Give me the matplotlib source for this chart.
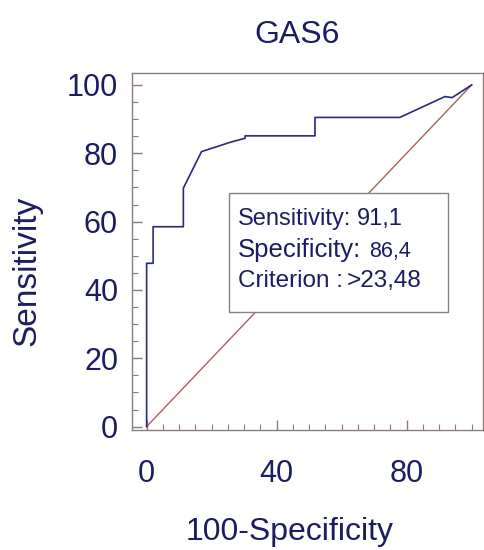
import matplotlib
matplotlib.use("Agg")
import matplotlib.pyplot as plt
from matplotlib.ticker import MultipleLocator
from matplotlib.patches import Rectangle

plt.rcParams['font.family'] = ['Liberation Sans', 'DejaVu Sans']

# ROC curve data (100-Specificity, Sensitivity)
fpr = [0, 0, 2.0, 2.0, 11.3, 11.3, 16.9, 26.0, 30.3, 30.3, 51.8, 51.8, 77.9, 91.8, 94.0, 100]
tpr = [0, 47.8, 47.8, 58.5, 58.5, 69.8, 80.5, 83.3, 84.4, 85.1, 85.1, 90.5, 90.5, 96.6, 96.3, 100]
diag_x = [0, 100]
diag_y = [0, 100]

x_ticks = [0, 40, 80]
y_ticks = [0, 20, 40, 60, 80, 100]

title = "GAS6"
xlabel = "100-Specificity"
ylabel = "Sensitivity"
box_labels = ["Sensitivity:", "Specificity:", "Criterion :"]
box_values = ["91,1", "86,4", ">23,48"]

navy = "#1c1c62"
frame = "#8c7b7b"

W, H = 485, 550
fig = plt.figure(figsize=(4.85, 5.5), dpi=100)
ax = fig.add_axes([132/W, 1-430/H, (483-132)/W, (430-73)/H])

ax.plot(diag_x, diag_y, color="#a86060", lw=1.0)
ax.plot(fpr, tpr, color="#2a2a7a", lw=1.2)

ax.set_xlim(-4.5, 103.5)
ax.set_ylim(-1.0, 103.5)

ax.set_xticks(x_ticks)
ax.set_yticks(y_ticks)
ax.xaxis.set_minor_locator(MultipleLocator(5))
ax.yaxis.set_minor_locator(MultipleLocator(5))
ax.tick_params(which='major', direction='in', length=7, width=1.0, color=frame,
               labelsize=22, labelcolor=navy, top=False, right=False)
ax.tick_params(axis='x', which='major', pad=21)
ax.tick_params(axis='y', which='major', pad=10)
ax.tick_params(which='minor', direction='in', length=4, width=0.8, color=frame,
               top=False, right=False)
for s in ax.spines.values():
    s.set_color(frame)
    s.set_linewidth(1.0)

fig.text(297/W, 1-43/H, title, ha='center', va='baseline', fontsize=23, color=navy)
fig.text(290/W, 1-540/H, xlabel, ha='center', va='baseline', fontsize=23, color=navy)
fig.text(27/W, 1-271/H, ylabel, ha='center', va='center', rotation=90, fontsize=24, color=navy)

# annotation box
bx0, by0, bx1, by1 = 229, 193, 448, 312
rect = Rectangle((bx0/W, 1-by1/H), (bx1-bx0)/W, (by1-by0)/H,
                 transform=fig.transFigure, facecolor='white', edgecolor='#8a8080', lw=1.0)
fig.add_artist(rect)

renderer = fig.canvas.get_renderer()
label_sizes = [17, 18.5, 17.5]
value_sizes = [17, 15.5, 17.5]
gaps = [5, 8, 4]
for lab, val, yb, ls, vs, g in zip(box_labels, box_values, [225, 257, 287],
                                   label_sizes, value_sizes, gaps):
    t = fig.text(238/W, 1-yb/H, lab, ha='left', va='baseline', fontsize=ls, color=navy)
    bb = t.get_window_extent(renderer=renderer)
    fig.text((bb.x1 + g)/W, 1-yb/H, val, ha='left', va='baseline', fontsize=vs, color=navy)

fig.savefig("out.png", dpi=100)
